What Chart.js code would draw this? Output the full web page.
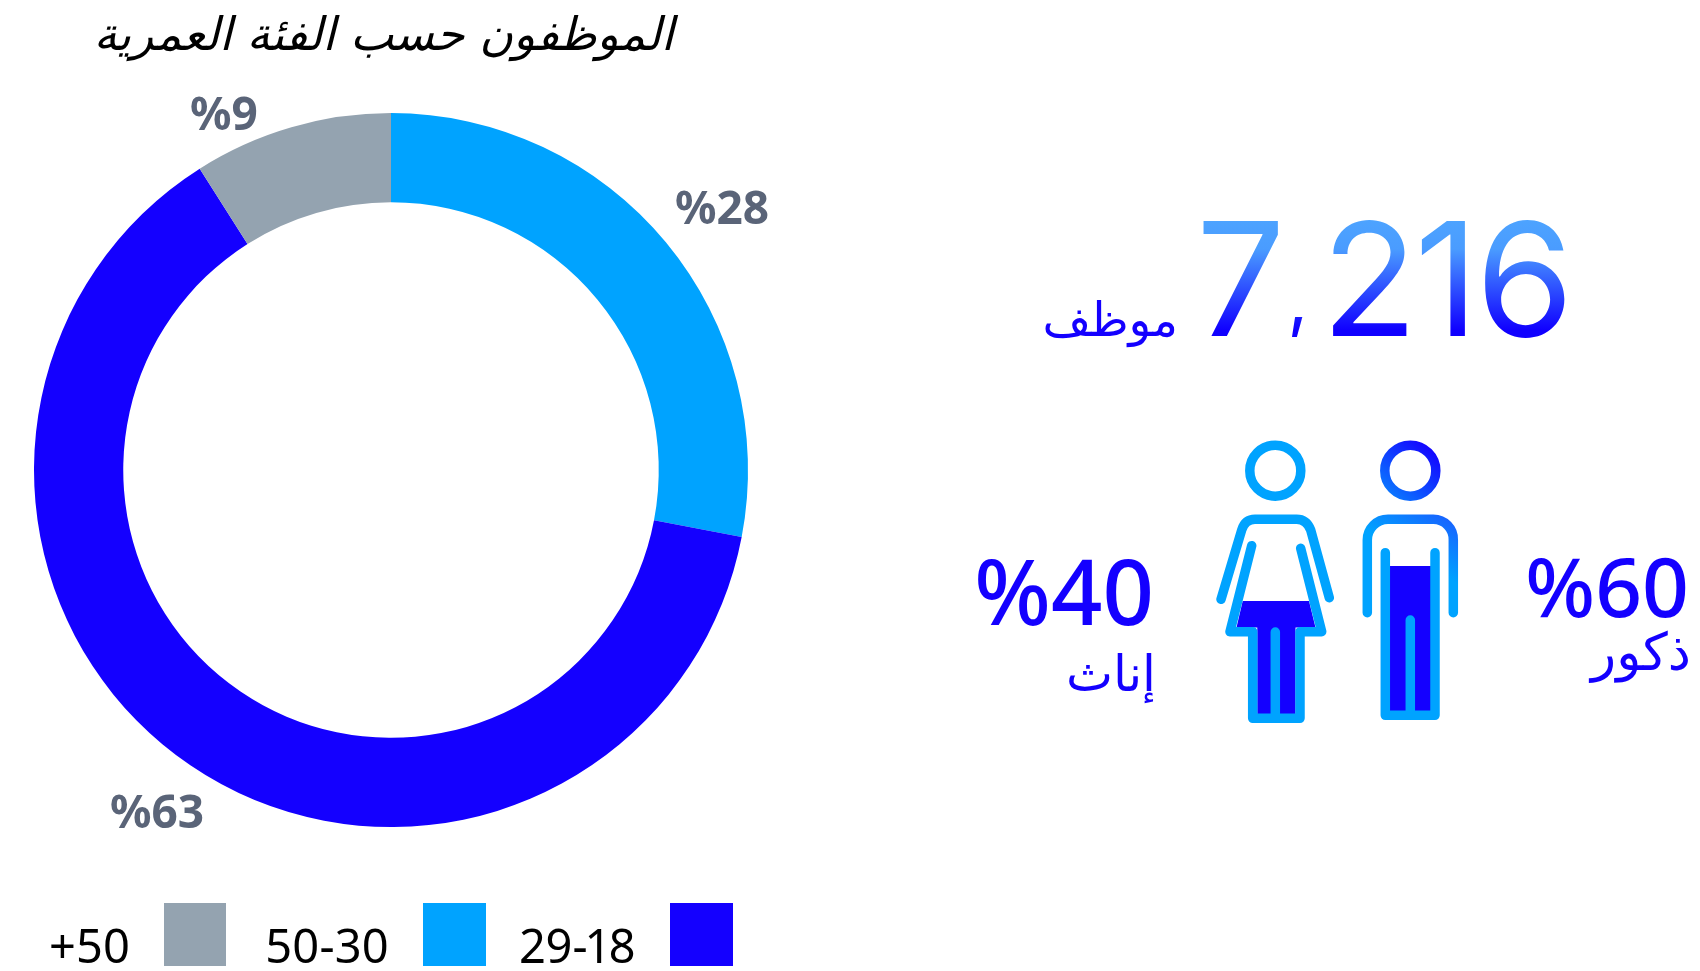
<!DOCTYPE html>
<html lang="ar">
<head>
	<meta charset="utf-8">
	<title>الموظفون حسب الفئة العمرية</title>
	<style>
html, body {
	margin: 0;
	padding: 0;
	background: #fff;
	overflow: hidden;
}
#chartWrapper {
	position: absolute;
	left: 0;
	top: 0;
	width: 782px;
	height: 971px;
}
#legend {
	position: absolute;
	left: 49px;
	top: 903px;
	height: 63px;
	display: flex;
	font: 47px "Noto Sans", sans-serif;
	font-variant-numeric: proportional-nums;
	color: #000;
}
#legend div { display: flex; justify-content: flex-end; }
#legend div:nth-child(1) { width: 177px; }
#legend div:nth-child(2) { width: 260px; }
#legend div:nth-child(3) { width: 247px; }
#legend span { line-height: 63px; position: relative; top: 11px; margin-right: 34px; white-space: nowrap; }
#legend i { display: block; width: 63px; height: 63px; }
#side {
	position: absolute;
	left: 0;
	top: 0;
}
#side text { font-family: "Noto Sans", "DejaVu Sans", sans-serif; fill: #1400ff; }
#side #totalNum { font-family: Inter, sans-serif; font-weight: 400; fill: url(#numGrad); }
#side .pct { font-weight: 500; }
	</style>
</head>
<body>

<div id="chartWrapper">
  <canvas id="ageChart"></canvas>
</div>
<div id="legend"></div>

<svg id="side" width="1700" height="971" viewBox="0 0 1700 971">
	<defs>
		<linearGradient id="numGrad" gradientUnits="userSpaceOnUse" x1="0" y1="220" x2="0" y2="336">
			<stop offset="0" stop-color="#4da3ff"/>
			<stop offset="0.25" stop-color="#4a9cff"/>
			<stop offset="0.95" stop-color="#1000ff"/>
		</linearGradient>
		<linearGradient id="headGrad" gradientUnits="userSpaceOnUse" x1="1432" y1="445" x2="1388" y2="497">
			<stop offset="0" stop-color="#1400ff"/>
			<stop offset="1" stop-color="#0a7cff"/>
		</linearGradient>
		<linearGradient id="torsoGrad" gradientUnits="userSpaceOnUse" x1="1455" y1="515" x2="1425" y2="565">
			<stop offset="0" stop-color="#1a5cff"/>
			<stop offset="1" stop-color="#00a3ff"/>
		</linearGradient>
	</defs>

	<text id="totalNum" x="1196" y="336" font-size="158"><tspan id="numA"></tspan><tspan id="numComma" font-size="72" dx="2" dy="-12"></tspan><tspan id="numB" dx="13" dy="12" letter-spacing="-3"></tspan></text>
	<text id="totalLabel" x="1178" y="336" font-size="47" text-anchor="end"></text>

	<!-- man -->
	<rect x="1385" y="566" width="50" height="146" fill="#1400ff"/>
	<g fill="none" stroke="#00a3ff" stroke-width="9.5" stroke-linecap="round" stroke-linejoin="round">
		<circle cx="1410.3" cy="470.7" r="25.5" stroke="url(#headGrad)"/>
		<path d="M1367.3 612.7V540a20.7 20.7 0 0 1 20.7-20.7h45.3a20 20 0 0 1 20 20.7v72.7" stroke="url(#torsoGrad)"/>
		<path d="M1385.3 552.7V715.3H1435V552.7"/>
		<path d="M1410.3 620V715"/>
	</g>

	<!-- woman -->
	<path d="M1242.7 601H1309L1315.5 627.5H1295.5V714H1257.3V627.5H1236.5Z" fill="#1400ff"/>
	<g fill="none" stroke="#00a3ff" stroke-width="9.5" stroke-linecap="round" stroke-linejoin="round">
		<circle cx="1275.3" cy="470.7" r="25.5"/>
		<path d="M1221 599.3L1241.7 530Q1245 519.3 1255 519.3H1296.7Q1306.5 519.3 1310.7 530L1329.3 597.7"/>
		<path d="M1251.7 545.7L1230 631.7H1252.7V718.3H1300V631.7H1321.7L1300.7 548.3"/>
		<path d="M1275.3 632V718"/>
	</g>

	<text id="malePct" class="pct" x="1689" y="617" font-size="82" text-anchor="end"></text>
	<text id="maleLabel" x="1691" y="670" font-size="52" text-anchor="end"></text>
	<text id="femalePct" class="pct" x="1154" y="625" font-size="90" text-anchor="end"></text>
	<text id="femaleLabel" x="1156" y="691" font-size="50" text-anchor="end"></text>
</svg>

<script src="https://cdn.jsdelivr.net/npm/chart.js"></script>
<script>
const chartTitle = 'الموظفون حسب الفئة العمرية';
const ageGroups = ['50-30', '29-18', '+50'];
const agePercents = [28, 63, 9];
const ageColors = ['#00a3ff', '#1400ff', '#94a3b0'];
const legendOrder = [2, 0, 1];

const totalEmployees = '7,216';
const employeesLabel = 'موظف';
const genderNames = ['ذكور', 'إناث'];
const genderPercents = [60, 40];

// where each % label sits relative to the centre of the ring
const labelOffsets = [[331, -259], [-234, 345], [-167, -353]];

const percentLabels = {
	id: 'percentLabels',
	afterDatasetsDraw(chart) {
		let ctx = chart.ctx;
		let arcs = chart.getDatasetMeta(0).data;
		ctx.save();
		ctx.font = '700 46px "Noto Sans", sans-serif';
		ctx.fillStyle = '#5a6478';
		ctx.textAlign = 'center';
		ctx.textBaseline = 'middle';
		arcs.forEach((arc, i) => {
			ctx.fillText('%' + agePercents[i], arc.x + labelOffsets[i][0], arc.y + labelOffsets[i][1]);
		});
		ctx.restore();
	}
};

const chart = new Chart(document.getElementById('ageChart'), {
	type: 'doughnut',
	data: {
		labels: ageGroups,
		datasets: [{
			data: agePercents,
			backgroundColor: ageColors,
			borderWidth: 0,
			radius: 357,
			cutout: '75%'
		}]
	},
	options: {
		responsive: true,
		maintainAspectRatio: false,
		animation: false,
		layout: { padding: { bottom: 108 } },
		plugins: {
			legend: { display: false },
			tooltip: { enabled: false },
			title: {
				display: true,
				text: chartTitle + '\u00a0',
				color: '#000',
				font: { family: '"DejaVu Sans", sans-serif', size: 46, style: 'italic', weight: 'normal' },
				padding: { top: 10, bottom: 12 }
			}
		}
	},
	plugins: [percentLabels]
});

// html legend, boxes sit on the right of the text
let legendEl = document.getElementById('legend');
for(let i of legendOrder) {
	let item = document.createElement('div');
	let label = document.createElement('span');
	label.textContent = ageGroups[i];
	let box = document.createElement('i');
	box.style.background = ageColors[i];
	item.append(label, box);
	legendEl.append(item);
}

document.getElementById('numA').textContent = totalEmployees.split(',')[0];
document.getElementById('numComma').textContent = ',';
document.getElementById('numB').textContent = totalEmployees.split(',')[1];
document.getElementById('totalLabel').textContent = employeesLabel;
document.getElementById('malePct').textContent = '%' + genderPercents[0];
document.getElementById('maleLabel').textContent = genderNames[0];
document.getElementById('femalePct').textContent = '%' + genderPercents[1];
document.getElementById('femaleLabel').textContent = genderNames[1];
</script>
</body>
</html>
